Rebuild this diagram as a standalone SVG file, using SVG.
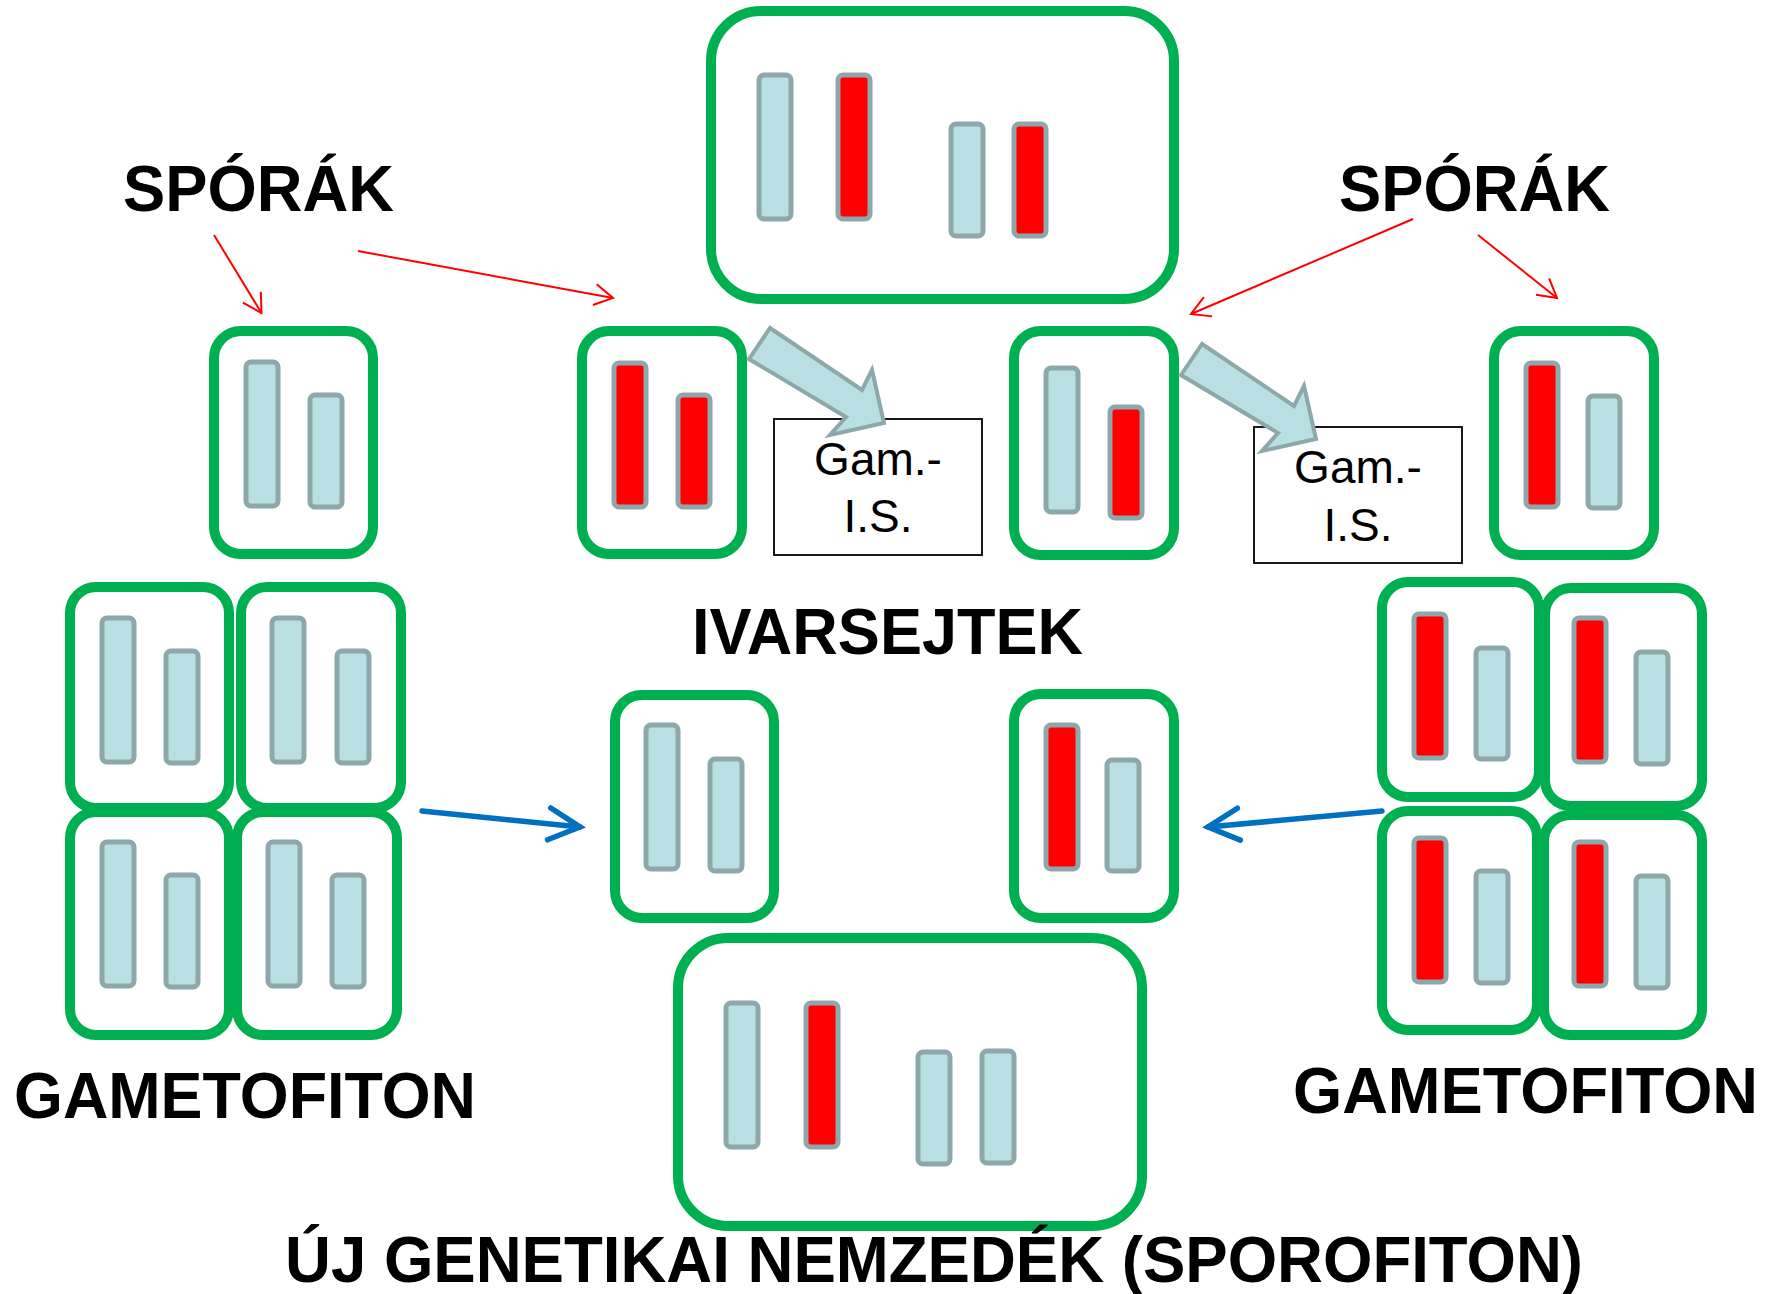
<svg xmlns="http://www.w3.org/2000/svg" width="1777" height="1294" viewBox="0 0 1777 1294">
<style>
.cell{fill:#fff;stroke:#00B050;stroke-width:10}
.b{fill:#B9DFE2;stroke:#8DA8AA;stroke-width:5}
.r{fill:#FF0000;stroke:#8DA8AA;stroke-width:5}
.lab{font-family:"Liberation Sans",Arial,sans-serif;font-weight:bold;font-size:64px;fill:#000}
.gt{font-family:"Liberation Sans",Arial,sans-serif;font-size:46px;fill:#000;text-anchor:middle}
.gbox{fill:#fff;stroke:#000;stroke-width:1.8}
.thin{stroke:#FF0000;stroke-width:2;fill:none}
.blue{stroke:#0070C0;stroke-width:5.5;fill:none;stroke-linecap:round}
.fat{fill:#B9DFE2;stroke:#8DA8AA;stroke-width:4;stroke-linejoin:miter}
</style>
<defs>
<marker id="mRed" markerUnits="userSpaceOnUse" markerWidth="40" markerHeight="40" viewBox="-30 -20 40 40" refX="0" refY="0" orient="auto">
<path d="M-18.5,-10.5 L0,0 L-18.5,10.5" fill="none" stroke="#FF0000" stroke-width="2"/>
</marker>
<marker id="mBlue" markerUnits="userSpaceOnUse" markerWidth="60" markerHeight="60" viewBox="-45 -30 60 60" refX="0" refY="0" orient="auto">
<path d="M-31,-16 L0,0 L-31,16" fill="none" stroke="#0070C0" stroke-width="5.5" stroke-linecap="round" stroke-linejoin="miter"/>
</marker>
</defs>
<rect width="1777" height="1294" fill="#fff"/>

<g id="sporophyte-top">
<rect class="cell" x="711" y="11" width="463" height="288" rx="50"/>
<rect class="b" x="759" y="75" width="32" height="144" rx="5"/>
<rect class="r" x="838" y="75" width="32" height="144" rx="5"/>
<rect class="b" x="951" y="124" width="32" height="112" rx="5"/>
<rect class="r" x="1014" y="124" width="32" height="112" rx="5"/>
</g>

<g id="spore-left">
<rect class="cell" x="214" y="331" width="159" height="223" rx="27"/>
<rect class="b" x="246" y="362" width="32" height="144" rx="5"/>
<rect class="b" x="310" y="395" width="32" height="112" rx="5"/>
</g>

<g id="spore-red">
<rect class="cell" x="582" y="331" width="160" height="223" rx="27"/>
<rect class="r" x="614" y="363" width="32" height="144" rx="5"/>
<rect class="r" x="678" y="395" width="32" height="112" rx="5"/>
</g>

<g id="spore-mid">
<rect class="cell" x="1014" y="331" width="160" height="224" rx="27"/>
<rect class="b" x="1046" y="368" width="32" height="144" rx="5"/>
<rect class="r" x="1110" y="407" width="32" height="111" rx="5"/>
</g>

<g id="spore-right">
<rect class="cell" x="1494" y="331" width="160" height="224" rx="27"/>
<rect class="r" x="1526" y="363" width="32" height="144" rx="5"/>
<rect class="b" x="1588" y="396" width="32" height="112" rx="5"/>
</g>

<g id="gam-is-1">
<rect class="gbox" x="774" y="419" width="208" height="136"/>
<text class="gt" x="878" y="475">Gam.-</text>
<text class="gt" x="878" y="532">I.S.</text>
</g>

<g id="gam-is-2">
<rect class="gbox" x="1254" y="427" width="208" height="136"/>
<text class="gt" x="1358" y="483">Gam.-</text>
<text class="gt" x="1358" y="541">I.S.</text>
</g>

<g id="gametophyte-left">
<rect class="cell" x="70" y="587" width="159" height="221" rx="26"/>
<rect class="b" x="102" y="618" width="32" height="144" rx="5"/>
<rect class="b" x="166" y="651" width="32" height="112" rx="5"/>
<rect class="cell" x="241" y="587" width="160" height="221" rx="26"/>
<rect class="b" x="272" y="618" width="32" height="144" rx="5"/>
<rect class="b" x="337" y="651" width="32" height="112" rx="5"/>
<rect class="cell" x="70" y="812" width="159" height="223" rx="26"/>
<rect class="b" x="102" y="842" width="32" height="144" rx="5"/>
<rect class="b" x="166" y="875" width="32" height="112" rx="5"/>
<rect class="cell" x="237" y="812" width="160" height="223" rx="26"/>
<rect class="b" x="268" y="842" width="32" height="144" rx="5"/>
<rect class="b" x="332" y="875" width="32" height="112" rx="5"/>
</g>

<g id="gametophyte-right">
<rect class="cell" x="1382" y="582" width="157" height="215" rx="26"/>
<rect class="r" x="1414" y="614" width="32" height="144" rx="5"/>
<rect class="b" x="1476" y="648" width="32" height="111" rx="5"/>
<rect class="cell" x="1545" y="588" width="157" height="218" rx="26"/>
<rect class="r" x="1574" y="618" width="32" height="144" rx="5"/>
<rect class="b" x="1636" y="652" width="32" height="112" rx="5"/>
<rect class="cell" x="1382" y="811" width="155" height="219" rx="26"/>
<rect class="r" x="1414" y="838" width="32" height="144" rx="5"/>
<rect class="b" x="1476" y="871" width="32" height="112" rx="5"/>
<rect class="cell" x="1544" y="815" width="158" height="220" rx="26"/>
<rect class="r" x="1574" y="842" width="32" height="144" rx="5"/>
<rect class="b" x="1636" y="876" width="32" height="112" rx="5"/>
</g>

<g id="gamete-left">
<rect class="cell" x="615" y="695" width="159" height="223" rx="27"/>
<rect class="b" x="646" y="725" width="32" height="144" rx="5"/>
<rect class="b" x="710" y="759" width="32" height="112" rx="5"/>
</g>

<g id="gamete-right">
<rect class="cell" x="1014" y="694" width="160" height="224" rx="27"/>
<rect class="r" x="1046" y="725" width="32" height="144" rx="5"/>
<rect class="b" x="1107" y="760" width="32" height="111" rx="5"/>
</g>

<g id="sporophyte-new">
<rect class="cell" x="678" y="938" width="464" height="288" rx="50"/>
<rect class="b" x="726" y="1003" width="32" height="144" rx="5"/>
<rect class="r" x="806" y="1003" width="32" height="144" rx="5"/>
<rect class="b" x="918" y="1052" width="32" height="112" rx="5"/>
<rect class="b" x="982" y="1051" width="32" height="112" rx="5"/>
</g>

<g id="connectors">
<line class="thin" x1="214" y1="235" x2="261.5" y2="313" marker-end="url(#mRed)"/>
<line class="thin" x1="358" y1="251" x2="613" y2="298" marker-end="url(#mRed)"/>
<line class="thin" x1="1413" y1="219" x2="1191" y2="314" marker-end="url(#mRed)"/>
<line class="thin" x1="1478" y1="235" x2="1557" y2="298" marker-end="url(#mRed)"/>
<line class="blue" x1="422" y1="811" x2="580" y2="827" marker-end="url(#mBlue)"/>
<line class="blue" x1="1382" y1="811" x2="1208" y2="827" marker-end="url(#mBlue)"/>
<polygon class="fat" points="770,328 862,390 872,370 884,423 830,435 846,417 749,359"/>
<polygon class="fat" points="1202,344 1294,406 1304,386 1316,439 1262,451 1278,433 1181,375"/>
</g>

<g id="labels">
<text class="lab" x="123" y="211" textLength="271" lengthAdjust="spacingAndGlyphs">SPÓRÁK</text>
<text class="lab" x="1339" y="211" textLength="271" lengthAdjust="spacingAndGlyphs">SPÓRÁK</text>
<text class="lab" x="692" y="654" textLength="391" lengthAdjust="spacingAndGlyphs">IVARSEJTEK</text>
<text class="lab" x="14" y="1118" textLength="462" lengthAdjust="spacingAndGlyphs">GAMETOFITON</text>
<text class="lab" x="1293" y="1113" textLength="465" lengthAdjust="spacingAndGlyphs">GAMETOFITON</text>
<text class="lab" x="285" y="1282" textLength="1298" lengthAdjust="spacingAndGlyphs">ÚJ GENETIKAI NEMZEDÉK (SPOROFITON)</text>
</g>
</svg>
